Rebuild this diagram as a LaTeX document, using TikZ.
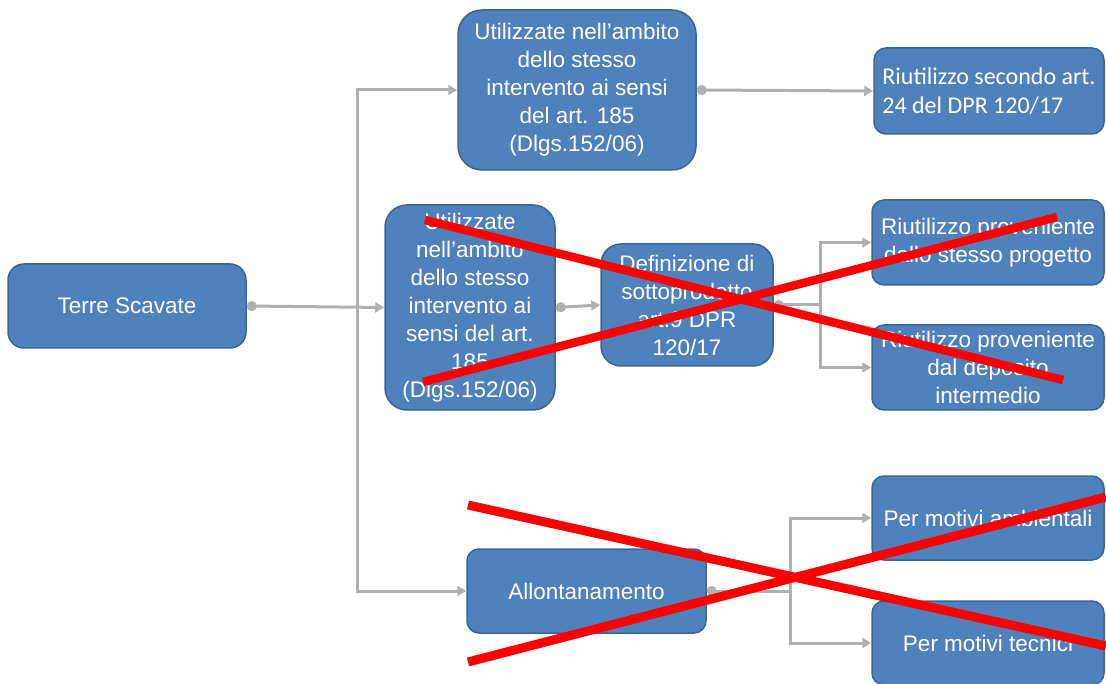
\documentclass[tikz,border=0pt]{standalone}
\usepackage{fontspec}
\setmainfont{Liberation Sans}
\newfontfamily\calibrifont{Carlito}
\usetikzlibrary{positioning,arrows.meta,calc}

\definecolor{boxblue}{HTML}{4F81BD}
\definecolor{boxedge}{HTML}{3A6596}
\definecolor{lnkgray}{HTML}{B0B0B0}
\definecolor{crossred}{HTML}{FF0000}

\tikzset{
  blubox/.style = {draw = boxedge, line width = 1.5pt, fill = boxblue,
    rounded corners = 16pt, text = white, align = center, inner sep = 2pt,
    font = \fontsize{22.5}{28}\selectfont},
  conn/.style = {draw = lnkgray, line width = 3pt,
    -{Triangle[length = 9pt, width = 10pt]}},
  dotconn/.style = {conn, {Circle[length = 10pt]}-{Triangle[length = 9pt, width = 10pt]}},
  trunk/.style = {draw = lnkgray, line width = 3pt},
  crossout/.style = {draw = crossred, line width = 9pt}
}

\begin{document}
\begin{tikzpicture}[x = 1pt, y = -1pt]
\useasboundingbox (0,0) rectangle (1106,684);
% boxes
\node[blubox, minimum width = 238pt, minimum height = 84pt] (terre) at (127,306) {Terre Scavate};
\node[blubox, minimum width = 238pt, minimum height = 160pt, rounded corners = 24pt] (utilA) at (577,90)
  {Utilizzate nell’ambito\\dello stesso\\intervento ai sensi\\del art. 185\\(Dlgs.152/06)};
\node[blubox, minimum width = 230pt, minimum height = 86pt, align = left, rounded corners = 12pt,
  font = \calibrifont\fontsize{24}{29}\selectfont] (riutA) at (989,91)
  {Riutilizzo secondo art.\\24 del DPR 120/17};
\node[blubox, minimum width = 170pt, minimum height = 205pt, rounded corners = 22pt] (utilB) at (470,307.5)
  {Utilizzate\\nell’ambito\\dello stesso\\intervento ai\\sensi del art.\\185\\(Dlgs.152/06)};
\node[blubox, minimum width = 172pt, minimum height = 122pt, rounded corners = 20pt] (defin) at (687,305)
  {Definizione di\\sottoprodotto\\art.9 DPR\\120/17};
\node[blubox, minimum width = 232pt, minimum height = 85pt, rounded corners = 12pt] (riutB) at (988,242.5)
  {Riutilizzo proveniente\\dallo stesso progetto};
\node[blubox, minimum width = 232pt, minimum height = 85pt, rounded corners = 12pt] (riutC) at (988,367.5)
  {Riutilizzo proveniente\\dal deposito\\intermedio};
\node[blubox, minimum width = 239pt, minimum height = 84pt, rounded corners = 12pt] (allont) at (586.5,591)
  {Allontanamento};
\node[blubox, minimum width = 232pt, minimum height = 84pt, rounded corners = 12pt] (perA) at (988,518)
  {Per motivi ambientali};
\node[blubox, minimum width = 232pt, minimum height = 84pt, rounded corners = 12pt] (perB) at (988,643)
  {Per motivi tecnici};
% branch points
\coordinate (splitA) at (357,306);
\coordinate (splitB) at (820,305);
\coordinate (splitC) at (790,591);
% connectors
\draw[dotconn] (terre.east) -- (utilB.west);
\draw[conn] (splitA) |- (utilA.west);
\draw[conn] (splitA) |- (allont.west);
\draw[dotconn] (utilA.east) -- (riutA.west);
\draw[dotconn] (utilB.east) -- (defin.west);
\draw[trunk, {Circle[length = 10pt]}-] (defin.east) -- (splitB);
\draw[conn] (splitB) |- (riutB.west);
\draw[conn] (splitB) |- (riutC.west);
\draw[trunk, {Circle[length = 10pt]}-] (allont.east) -- (splitC);
\draw[conn] (splitC) |- (perA.west);
\draw[conn] (splitC) |- (perB.west);
% crossed out
\draw[crossout, line width = 8.5pt] (425,220) -- (1063,380);
\draw[crossout, line width = 8.5pt] (423,382) -- (1057,217);
\draw[crossout] (468,505) -- (1106,646);
\draw[crossout] (468,662) -- (1106,497);
\end{tikzpicture}
\end{document}
